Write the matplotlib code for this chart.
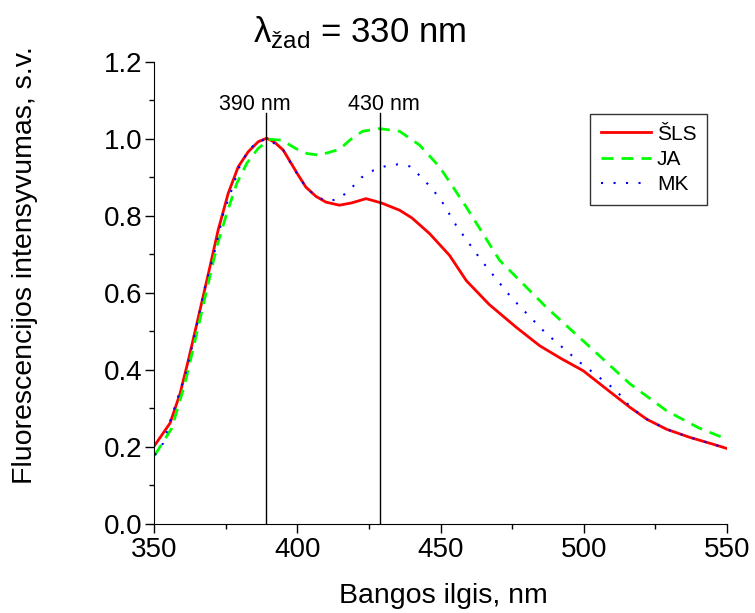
import numpy as np
import matplotlib
matplotlib.use("Agg")
import matplotlib.pyplot as plt
from matplotlib.ticker import MultipleLocator

plt.rcParams['font.family'] = ['Liberation Sans', 'DejaVu Sans']
plt.rcParams['mathtext.fontset'] = 'custom'
plt.rcParams['mathtext.rm'] = 'Liberation Sans'

## spectra
wl_sls = [350.3, 355.6, 359.1, 362.0, 365.5, 369.0, 372.4, 375.9, 379.4, 382.9, 386.4, 389.3,
          392, 395.1, 397.2, 400, 403, 406.5, 410, 414.7, 419, 424, 429.3, 435.7, 440, 446.2,
          453.1, 459, 467, 476.4, 484.6, 492, 499.8, 508, 516.1, 522, 528.9, 537, 545.2, 550]
sls = [0.205, 0.262, 0.339, 0.426, 0.538, 0.651, 0.764, 0.859, 0.928, 0.967, 0.993, 1.002,
       0.992, 0.971, 0.945, 0.91, 0.875, 0.851, 0.836, 0.828, 0.834, 0.845, 0.834, 0.815, 0.795, 0.754,
       0.698, 0.632, 0.57, 0.511, 0.463, 0.43, 0.398, 0.35, 0.303, 0.272, 0.246, 0.225, 0.207, 0.196]

wl_ja = [350.3, 356.2, 360.8, 364.9, 368.4, 371.9, 375.4, 378.9, 382.4, 386.4, 390.5, 394.6,
         399.5, 403.5, 407.7, 414.7, 418.5, 422.8, 428.7, 435.7, 442.7, 449.7, 459, 470.6,
         486.9, 500.9, 516.1, 528.9, 540, 550]
ja = [0.179, 0.249, 0.365, 0.495, 0.608, 0.720, 0.807, 0.885, 0.937, 0.976, 0.999, 0.997,
      0.975, 0.962, 0.958, 0.973, 0.998, 1.020, 1.027, 1.020, 0.984, 0.927, 0.823, 0.685,
      0.563, 0.468, 0.364, 0.294, 0.25, 0.220]

wl_mk = [350.3, 353.2, 357.3, 361.4, 364.3, 367.8, 371.3, 374.2, 377.1, 380.0, 382.4, 385.8,
         389.9, 395.1, 399.5, 403, 406.5, 410.6, 414.7, 418.7, 422.4, 426.7, 431, 435.1,
         439.2, 443.3, 447, 450.2, 455.4, 464.2, 474.6, 486.4, 498.6, 511.4, 516.1, 522,
         528.9, 537, 545.2, 550]
mk = [0.179, 0.21, 0.305, 0.40, 0.495, 0.616, 0.712, 0.807, 0.868, 0.932, 0.963, 0.993,
      1.0, 0.971, 0.915, 0.875, 0.851, 0.838, 0.845, 0.871, 0.900, 0.919, 0.930, 0.934,
      0.929, 0.901, 0.871, 0.841, 0.776, 0.685, 0.589, 0.498, 0.420, 0.346, 0.305, 0.272,
      0.246, 0.225, 0.207, 0.196]

peaks = [389.2, 429]
peak_labels = ['390 nm', '430 nm']
peak_label_x = [385.2, 430.3]

fig = plt.figure(figsize=(7.55, 6.13), dpi=100)
ax = fig.add_axes([0.204, 0.1452, 0.759, 0.7537])

ax.plot(wl_sls, sls, color='#ff0000', lw=2, label='ŠLS')
ax.plot(wl_ja, ja, color='#00ff00', lw=2, ls=(0, (4.3, 2.9)), label='JA')
ax.plot(wl_mk, mk, color='#0000ff', lw=1.5, ls=(0, (1, 5)), label='MK')

for p, lx, lab in zip(peaks, peak_label_x, peak_labels):
    ax.plot([p, p], [0, 1.0675], color='black', lw=1)
    ax.text(lx, 1.075, lab, ha='center', va='baseline', fontsize=15.5)

ax.set_xlim(350, 550)
ax.set_ylim(0, 1.2)
ax.xaxis.set_major_locator(MultipleLocator(50))
ax.xaxis.set_minor_locator(MultipleLocator(25))
ax.yaxis.set_major_locator(MultipleLocator(0.2))
ax.yaxis.set_minor_locator(MultipleLocator(0.1))
ax.yaxis.set_major_formatter(plt.FuncFormatter(lambda v, p: '%.1f' % v))
ax.tick_params(which='major', direction='out', length=6.3, width=1, labelsize=20)
ax.tick_params(axis='y', which='major', pad=2)
ax.tick_params(axis='x', which='major', pad=3)
ax.tick_params(which='minor', direction='out', length=3.6, width=1)
ax.spines['top'].set_visible(False)
ax.spines['right'].set_visible(False)

fig.text(443 / 755, 1 - 603 / 613, 'Bangos ilgis, nm', ha='center', va='baseline', fontsize=20.5)
fig.text(25 / 755, 1 - 265 / 613, 'Fluorescencijos intensyvumas, s.v.', ha='center', va='center',
         rotation=90, fontsize=20.5)
fig.text(360 / 755, 1 - 42 / 613, r'λ$_{\mathregular{žad}}$ = 330 nm', ha='center', va='baseline',
         fontsize=25)

leg = ax.legend(loc='upper right', bbox_to_anchor=(0.965, 0.887), borderaxespad=0, fontsize=15,
                frameon=True, fancybox=False, edgecolor='black', handlelength=2.4,
                handletextpad=0.3, borderpad=0.5, labelspacing=0.3)
leg.get_frame().set_linewidth(1)

fig.savefig('out.png', dpi=100)
